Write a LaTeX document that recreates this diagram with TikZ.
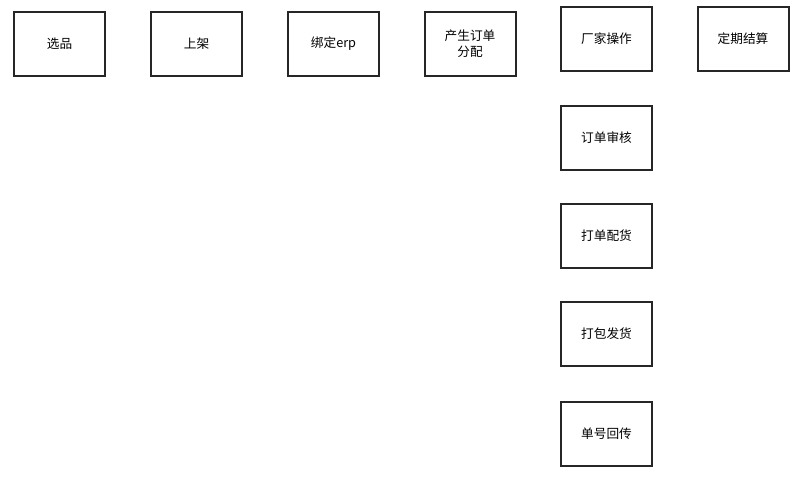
\documentclass[tikz,border=0pt]{standalone}
\usepackage{fontspec}
\setmainfont{Noto Sans CJK SC}
\begin{document}
\begin{tikzpicture}[x=0.75pt,y=-0.75pt,
    stepbox/.style={draw=black!85,line width=1.5pt,minimum width=68.25pt,minimum height=48pt,inner sep=0pt,align=center,font=\fontsize{9.5}{12}\selectfont}]
            \useasboundingbox (0,0) rectangle (800,476);
            \node[stepbox] (xuanpin) at (59.5,44){选品};
            \node[stepbox] (shangjia) at (196.5,44){上架};
            \node[stepbox] (bangding) at (333.5,44){绑定erp};
            \node[stepbox] (fenpei) at (470,44){产生订单\\分配};
            \node[stepbox] (changjia) at (606.5,39){厂家操作};
            \node[stepbox] (jiesuan) at (743,39){定期结算};
            \node[stepbox] (shenhe) at (606.5,138){订单审核};
            \node[stepbox] (peihuo) at (606.5,236){打单配货};
            \node[stepbox] (fahuo) at (606.5,334){打包发货};
            \node[stepbox] (huichuan) at (606.5,434){单号回传};
        \end{tikzpicture}
\end{document}
